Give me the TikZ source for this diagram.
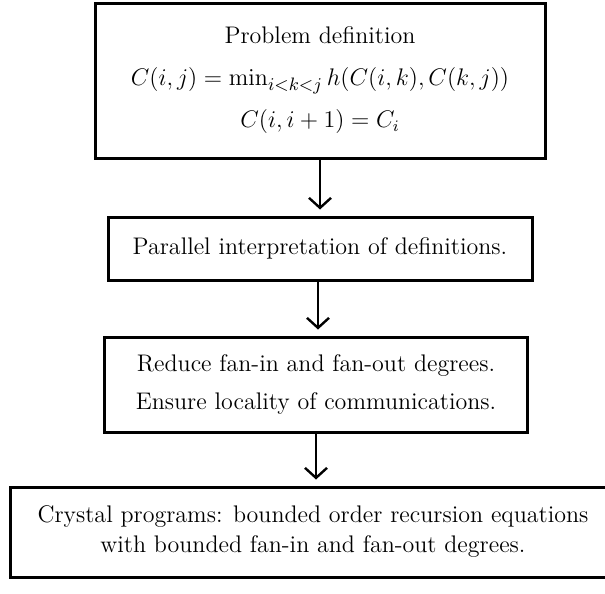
\documentclass[tikz,border=0pt]{standalone}
\usepackage{amsmath,amssymb}
\usepackage{tikz}
\usetikzlibrary{arrows.meta,positioning}
\tikzset{
  stagebox/.style={draw=black, line width=1.5pt, fill=white, align=center,
    inner sep=2pt, font=\fontsize{12}{15}\selectfont},
  flow/.style={-{Straight Barb[length=5pt, width=11pt, line width=1.2pt]}, line width=1.2pt}
}

\begin{document}
\begin{tikzpicture}[x=0.5pt, y=-0.5pt]
  \useasboundingbox (0,0) rectangle (605,594);

  % problem definition
  \node[stagebox, minimum width=225pt, minimum height=77.5pt] (defn) at (320,80.5)
    {Problem definition\\[6pt]
     {\fontsize{13}{15}\selectfont$C(i,j)=\min_{i<k<j}h(C(i,k),C(k,j))$}\\[6pt]
     $C(i,i+1)=C_i$};

  % parallel reading
  \node[stagebox, below=28pt of defn, minimum width=212pt, minimum height=31.5pt] (par)
    {Parallel interpretation of definitions.};

  % fan-in / locality
  \node[stagebox, below=27pt of par, xshift=-2pt, minimum width=211.5pt, minimum height=47.5pt] (red)
    {Reduce fan-in and fan-out degrees.\\[4pt]
     Ensure locality of communications.};

  % crystal programs
  \node[stagebox, below=26pt of red, xshift=-1.5pt, minimum width=302.5pt, minimum height=45pt] (crys)
    {Crystal programs: bounded order recursion equations\\
     with bounded fan-in and fan-out degrees.};

  \draw[flow] (defn.south) -- ([yshift=3pt]defn.south |- par.north);
  \draw[flow] ([xshift=-1pt]par.south) -- ([xshift=-1pt, yshift=3pt]par.south |- red.north);
  \draw[flow] (red.south) -- ([yshift=3pt]red.south |- crys.north);
\end{tikzpicture}
\end{document}
